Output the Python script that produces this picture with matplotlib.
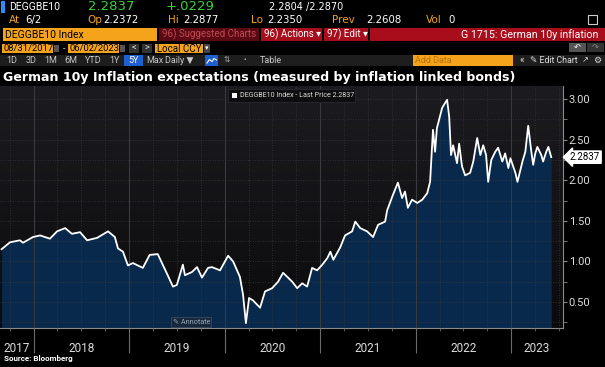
import numpy as np
import pandas as pd
import matplotlib
matplotlib.use("Agg")
import matplotlib.pyplot as plt
import matplotlib.dates as mdates
from matplotlib.ticker import MultipleLocator, FormatStrFormatter
from matplotlib.colors import LinearSegmentedColormap
from matplotlib.patches import Rectangle

plt.rcParams["font.family"] = ["Roboto", "DejaVu Sans"]

# DEGGBE10 Index, last price
dates = [
    "2017-08-31", "2017-10-02", "2017-11-09", "2017-11-21", "2017-12-29",
    "2018-01-25", "2018-03-04", "2018-03-31", "2018-05-01", "2018-05-27",
    "2018-06-27", "2018-07-24", "2018-08-31", "2018-10-12", "2018-11-07",
    "2018-11-19", "2018-12-08", "2018-12-27", "2019-01-15", "2019-02-22",
    "2019-03-20", "2019-04-20", "2019-05-09", "2019-05-28", "2019-06-17",
    "2019-07-02", "2019-07-25", "2019-08-02", "2019-08-29", "2019-09-17",
    "2019-10-06", "2019-10-29", "2019-11-13", "2019-12-14", "2020-01-14",
    "2020-02-02", "2020-02-28", "2020-03-11", "2020-03-22", "2020-04-03",
    "2020-04-18", "2020-05-15", "2020-06-03", "2020-06-30", "2020-07-23",
    "2020-08-11", "2020-09-15", "2020-10-04", "2020-10-23", "2020-11-11",
    "2020-11-30", "2020-12-19", "2021-01-08", "2021-01-27", "2021-02-08",
    "2021-02-19", "2021-03-17", "2021-04-05", "2021-05-02", "2021-05-14",
    "2021-06-02", "2021-06-28", "2021-07-21", "2021-08-09", "2021-09-05",
    "2021-09-13", "2021-10-05", "2021-10-24", "2021-11-09", "2021-11-20",
    "2021-12-01", "2021-12-17", "2022-01-06", "2022-01-25", "2022-02-13",
    "2022-02-24", "2022-03-07", "2022-03-15", "2022-03-22", "2022-04-11",
    "2022-04-22", "2022-04-30", "2022-05-08", "2022-05-15", "2022-05-23",
    "2022-06-07", "2022-06-15", "2022-06-26", "2022-07-08", "2022-07-27",
    "2022-08-08", "2022-08-23", "2022-09-04", "2022-09-15", "2022-09-26",
    "2022-10-04", "2022-10-16", "2022-10-31", "2022-11-11", "2022-11-27",
    "2022-12-08", "2022-12-20", "2022-12-28", "2023-01-16", "2023-01-24",
    "2023-02-12", "2023-02-23", "2023-03-06", "2023-03-18", "2023-03-25",
    "2023-04-02", "2023-04-10", "2023-04-25", "2023-05-02", "2023-05-14",
    "2023-05-22", "2023-06-02",
]
values = [
    1.15, 1.235, 1.26, 1.23, 1.30,
    1.32, 1.28, 1.37, 1.41, 1.34,
    1.36, 1.26, 1.29, 1.37, 1.30,
    1.16, 1.12, 0.95, 0.98, 0.92,
    1.08, 1.09, 0.96, 0.83, 0.69,
    0.71, 0.96, 0.83, 0.87, 0.93,
    0.80, 0.92, 0.93, 0.89, 1.07,
    1.00, 0.81, 0.59, 0.24, 0.55,
    0.52, 0.43, 0.63, 0.67, 0.75,
    0.86, 0.75, 0.67, 0.73, 0.69,
    0.92, 0.89, 0.96, 1.04, 1.12,
    1.02, 1.17, 1.32, 1.37, 1.49,
    1.41, 1.37, 1.30, 1.45, 1.49,
    1.63, 1.82, 1.97, 1.78, 1.86,
    1.66, 1.76, 1.72, 1.76, 1.84,
    1.98, 2.62, 2.35, 2.64, 2.89,
    2.95, 2.99, 2.78, 2.31, 2.43,
    2.21, 2.45, 2.17, 2.06, 2.09,
    2.23, 2.52, 2.31, 2.43, 2.31,
    1.98, 2.25, 2.35, 2.40, 2.23,
    2.33, 2.15, 2.27, 2.09, 1.98,
    2.23, 2.35, 2.67, 2.35, 2.19,
    2.33, 2.41, 2.31, 2.23, 2.35,
    2.41, 2.2837,
]
year_labels = ["2017", "2018", "2019", "2020", "2021", "2022", "2023"]
year_label_dates = ["2017-10-28", "2018-07-02", "2019-07-02", "2020-07-02",
                    "2021-07-02", "2022-07-02", "2023-04-09"]
y_ticks = [0.5, 1.0, 1.5, 2.0, 2.5, 3.0]
x_range = ["2017-08-25", "2023-07-17"]
y_range = [0.18, 3.16]
last_price = 2.2837

W, H = 605, 367
ORANGE = "#f5a31a"
GREEN = "#3ad13a"
RED = "#a80d1c"
MONO = ["DejaVu Sans"]


def main():
    d = pd.to_datetime(dates)
    v = np.array(values)

    fig = plt.figure(figsize=(W / 100, H / 100), dpi=100, facecolor="black")
    rect = [0, 39 / H, 563 / W, 242 / H]

    # plot background gradient
    bg = fig.add_axes(rect, zorder=0)
    cmap = LinearSegmentedColormap.from_list("bg", ["#0b0b0d", "#1c1c20"])
    bg.imshow(np.linspace(0, 1, 100).reshape(-1, 1), cmap=cmap, aspect="auto",
              origin="lower", extent=[0, 1, 0, 1])
    bg.axis("off")

    ax = fig.add_axes(rect, zorder=1)
    ax.patch.set_visible(False)
    ax.fill_between(d, v, y_range[0], color="#08294b", lw=0, zorder=2)
    ax.plot(d, v, color="white", lw=1.3, zorder=3)
    ax.set_xlim(pd.to_datetime(x_range))
    ax.set_ylim(y_range)

    # y axis on the right
    ax.yaxis.tick_right()
    ax.set_yticks(y_ticks)
    ax.yaxis.set_major_formatter(FormatStrFormatter("%.2f"))
    ax.yaxis.set_minor_locator(MultipleLocator(0.25))
    ax.tick_params(axis="y", which="both", colors="#8a8a8a", length=3,
                   labelcolor="#dcdcdc", labelsize=8, pad=1)

    # x axis: year separators + quarter ticks, labels in the middle of years
    ax.xaxis.set_major_locator(mdates.YearLocator())
    ax.xaxis.set_minor_locator(mdates.MonthLocator(bymonth=[1, 4, 7, 10]))
    ax.tick_params(axis="x", which="major", length=18, width=0.8,
                   colors="#6a6a6a", labelbottom=False)
    ax.tick_params(axis="x", which="minor", length=2.5, colors="#6a6a6a")
    for lbl, ld in zip(year_labels, year_label_dates):
        ax.text(pd.Timestamp(ld), -0.085, lbl, transform=ax.get_xaxis_transform(),
                color="#dcdcdc", fontsize=8.5, ha="center", va="center")

    ax.grid(which="major", axis="x", color="#3a3a3e", lw=0.8, zorder=1)
    ax.grid(which="minor", axis="x", color="#38383c", lw=0.6, ls=(0, (1, 2)), zorder=1)
    ax.grid(which="both", axis="y", color="#38383c", lw=0.6, ls=(0, (1, 2)), zorder=1)
    ax.set_axisbelow(False)

    for s in ["left", "top"]:
        ax.spines[s].set_visible(False)
    for s in ["right", "bottom"]:
        ax.spines[s].set_color("#8a8a8a")
        ax.spines[s].set_linewidth(0.8)

    ax.text(1.012, last_price, "%.4f" % last_price, transform=ax.get_yaxis_transform(),
            color="black", fontsize=7, va="center", ha="left", zorder=6,
            bbox=dict(boxstyle="larrow,pad=0.12", fc="white", ec="white"),
            clip_on=False)

    # terminal chrome, drawn in pixel coordinates
    ui = fig.add_axes([0, 0, 1, 1], zorder=5)
    ui.set_xlim(0, W)
    ui.set_ylim(H, 0)
    ui.axis("off")
    ui.patch.set_alpha(0)

    def box(x0, y0, x1, y1, fc, ec="none", lw=0.6):
        ui.add_patch(Rectangle((x0, y0), x1 - x0, y1 - y0, fc=fc, ec=ec, lw=lw))

    def txt(x, y, s, color="white", size=7, **kw):
        ui.text(x, y, s, color=color, fontsize=size, va="center", **kw)

    # row 1
    box(1, 1, 5, 13, "#2a8cff")
    txt(9, 7, "DEGGBE10", size=7.5)
    txt(88, 7, "2.2837", GREEN, 9.5, family=MONO)
    txt(166, 7, "+.0229", GREEN, 9.5, family=MONO)
    txt(269, 7, "2.2804 /2.2870", size=7, family=MONO)
    # row 2
    for lab, lx, val, vx in [("At", 9, "6/2", 25), ("Op", 87, "2.2372", 103),
                             ("Hi", 168, "2.2877", 183), ("Lo", 251, "2.2350", 267),
                             ("Prev", 332, "2.2608", 366), ("Vol", 426, "0", 448)]:
        txt(lx, 20, lab, ORANGE, 7.5, family=MONO)
        txt(vx, 20, val, size=7.3, family=MONO)
    box(588, 15, 597, 24, "none", ec="#cccccc", lw=0.8)
    # row 3
    box(3, 28, 157, 41, ORANGE)
    txt(5, 34.5, "DEGGBE10 Index", "black", 7.5)
    box(159, 28, 259, 41, "#5c0a12")
    txt(162, 34.5, "96) Suggested Charts", "#c04a56", 7)
    box(261, 28, 322, 41, RED)
    txt(264, 34.5, "96) Actions \u25be", "white", 7)
    box(324, 28, 368, 41, RED)
    txt(327, 34.5, "97) Edit \u25be", "white", 7)
    box(370, 28, 605, 41, RED)
    txt(598, 34.5, "G 1715: German 10y inflation", "white", 7.7, ha="right")
    # row 4
    box(2, 44, 53, 53, ORANGE)
    txt(3.5, 48.5, "08/31/2017", "black", 6.8)
    box(54, 45, 59, 52, "#555555")
    txt(63, 48.5, "-", "#cccccc", 6.5)
    box(68, 44, 119, 53, ORANGE)
    txt(69.5, 48.5, "06/02/2023", "black", 6.8)
    box(120, 45, 125, 52, "#555555")
    box(129, 44, 139, 53, "#333333")
    txt(134, 48.5, "<", "#dddddd", 6.5, ha="center")
    box(142, 44, 152, 53, "#333333")
    txt(147, 48.5, ">", "#dddddd", 6.5, ha="center")
    box(155, 44, 203, 53, ORANGE)
    txt(157, 48.5, "Local CCY", "black", 7)
    box(204, 44, 210, 53, "#444444")
    txt(207, 48.5, "\u25be", "white", 5, ha="center")
    box(569, 43, 586, 52, "#555555")
    txt(577.5, 47.5, "\u21b6", "white", 6, ha="center")
    box(587, 43, 604, 52, "#333333")
    txt(595.5, 47.5, "\u21b7", "#888888", 6, ha="center")
    # row 5
    box(0, 55, 605, 66, "#1e1e1e")
    for lab, bx in [("1D", 12), ("3D", 31), ("1M", 51), ("6M", 71), ("YTD", 93),
                    ("1Y", 114), ("Max", 155), ("Daily \u25bc", 179), ("Table", 271)]:
        txt(bx, 60.5, lab, "#c8c8c8", 6.5, ha="center")
    box(124, 55, 143, 66, "#1f5fd0")
    txt(133.5, 60.5, "5Y", "white", 6.5, ha="center")
    box(205, 55, 218, 66, "#1f5fd0")
    # small line-chart icon
    ui.plot([207, 209.5, 212, 214, 216.5], [63, 59.5, 61.5, 58.5, 60], color="white", lw=0.8)
    txt(227, 60.5, "\u21c5", "#aaaaaa", 5.5, ha="center")
    txt(245, 60.5, "\u2022", "#cccccc", 5.5, ha="center")
    box(413, 55, 513, 66, ORANGE)
    txt(415, 60.5, "Add Data", "#b8720a", 6.5)
    txt(520, 60.5, "\u00ab", "#dddddd", 7)
    txt(530, 60.5, "\u270e Edit Chart", "#dddddd", 6.3)
    txt(582, 60.5, "\u2197", "#dddddd", 6)
    txt(593, 60.5, "\u2699", "#dddddd", 6.5)

    # title
    txt(3, 77, "German 10y Inflation expectations (measured by inflation linked bonds)",
        "white", 9.1, fontweight="bold", family=MONO)

    # legend and annotate boxes inside the plot
    box(228, 89, 355, 102, "#0e0e10", ec="#2a2a2e")
    box(232, 92.5, 237, 98, "white")
    txt(240, 95.5, "DEGGBE10 Index - Last Price 2.2837", "#dddddd", 5.1)
    box(171, 317, 211, 327, "#18283c", ec="#3b4b5d")
    txt(173, 322, "\u270e Annotate", "#9aa8b8", 5.2)

    txt(4, 359, "Source: Bloomberg", "white", 5.8, fontweight="bold")

    fig.savefig("out.png", dpi=100, facecolor="black")


if __name__ == "__main__":
    main()
